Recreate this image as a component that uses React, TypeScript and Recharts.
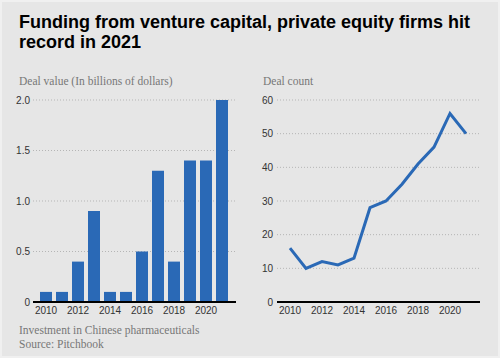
import { BarChart, Bar, LineChart, Line, XAxis, YAxis, CartesianGrid } from 'recharts';

const years = ['2010', '2011', '2012', '2013', '2014', '2015', '2016', '2017', '2018', '2019', '2020', '2021'];
const dealValue = [0.1, 0.1, 0.4, 0.9, 0.1, 0.1, 0.5, 1.3, 0.4, 1.4, 1.4, 2.0];
const dealCount = [16, 10, 12, 11, 13, 28, 30, 35, 41, 46, 56, 50];
const valueTicks = [0, 0.5, 1, 1.5, 2];
const countTicks = [0, 10, 20, 30, 40, 50, 60];

const BLUE = '#2a69b6';
const sans = '"Liberation Sans", Arial, sans-serif';
const serif = '"Liberation Serif", "Times New Roman", serif';

const tickStyle = { fontSize: 10, fill: '#333', fontFamily: sans };

export default function App() {
  const data = years.map((year, i) => ({
    year,
    value: dealValue[i],
    count: dealCount[i],
  }));

  return (
    <div
      style={{
        position: 'absolute',
        left: 0,
        top: 0,
        width: 500,
        height: 358,
        boxSizing: 'border-box',
        background: '#e6e6e6',
        border: '2px solid #f0f0f0',
        overflow: 'hidden',
      }}
    >
      <div
        style={{
          position: 'absolute',
          left: 17,
          top: 10,
          width: 470,
          fontFamily: sans,
          fontWeight: 'bold',
          fontSize: 18,
          lineHeight: '20px',
          color: '#000',
        }}
      >
        Funding from venture capital, private equity firms hit record in 2021
      </div>
      <div style={{ position: 'absolute', left: 17, top: 73, fontFamily: serif, fontSize: 11.5, color: '#777' }}>
        Deal value (In billions of dollars)
      </div>
      <div style={{ position: 'absolute', left: 261, top: 73, fontFamily: serif, fontSize: 11.5, color: '#777' }}>
        Deal count
      </div>

      <div style={{ position: 'absolute', left: -2, top: 88 }}>
        <BarChart width={250} height={232} data={data} margin={{ top: 10, right: 14, bottom: 0, left: 0 }}>
          <CartesianGrid vertical={false} stroke="#b5b5b5" strokeDasharray="1 2" />
          <XAxis
            dataKey="year"
            interval={1}
            tickLine={false}
            tickSize={0}
            tick={tickStyle}
            tickMargin={5}
            axisLine={{ stroke: '#000', strokeWidth: 2 }}
            padding={{ left: 5, right: 6 }}
            height={20}
          />
          <YAxis
            domain={[0, 2]}
            ticks={valueTicks}
            width={33}
            tickLine={false}
            tickSize={0}
            axisLine={false}
            tick={tickStyle}
            tickMargin={3}
            tickFormatter={(v: number) => (v === 0 ? '0' : v.toFixed(1))}
          />
          <Bar dataKey="value" fill={BLUE} barSize={12} isAnimationActive={false} />
        </BarChart>
      </div>

      <div style={{ position: 'absolute', left: 248, top: 88 }}>
        <LineChart width={250} height={232} data={data} margin={{ top: 10, right: 20, bottom: 0, left: 0 }}>
          <CartesianGrid vertical={false} stroke="#b5b5b5" strokeDasharray="1 2" />
          <XAxis
            dataKey="year"
            interval={1}
            tickLine={false}
            tickSize={0}
            tick={tickStyle}
            tickMargin={5}
            axisLine={{ stroke: '#000', strokeWidth: 2 }}
            padding={{ left: 13, right: 14 }}
            height={20}
          />
          <YAxis
            domain={[0, 60]}
            ticks={countTicks}
            width={27}
            tickLine={false}
            tickSize={0}
            axisLine={false}
            tick={tickStyle}
            tickMargin={4}
          />
          <Line
            type="linear"
            dataKey="count"
            stroke={BLUE}
            strokeWidth={3}
            dot={false}
            isAnimationActive={false}
          />
        </LineChart>
      </div>

      <div
        style={{
          position: 'absolute',
          left: 17,
          top: 321,
          fontFamily: serif,
          fontSize: 11.5,
          lineHeight: '14px',
          color: '#777',
        }}
      >
        Investment in Chinese pharmaceuticals
        <br />
        Source: Pitchbook
      </div>
    </div>
  );
}
